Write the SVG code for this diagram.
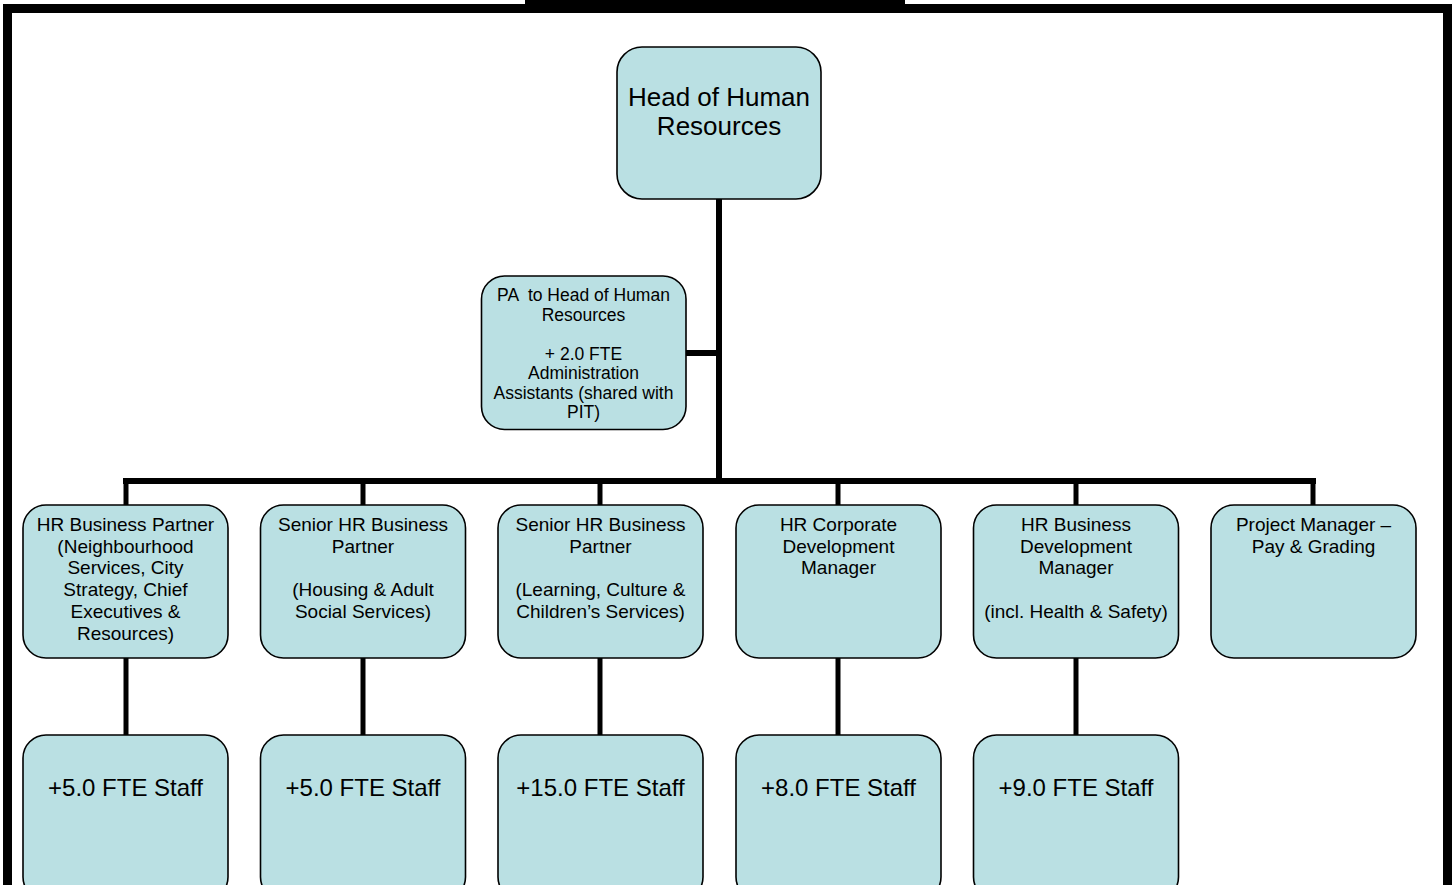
<svg xmlns="http://www.w3.org/2000/svg" width="1455" height="885" viewBox="0 0 1455 885">
  <style>
    .box { fill: #BAE0E3; stroke: #000; stroke-width: 1.6; }
    .lbl { font-family: "Liberation Sans", Arial, sans-serif; fill: #000; text-anchor: middle; white-space: pre; }
    .big { font-size: 26px; }
    .mid { font-size: 24px; }
    .sm { font-size: 19px; }
    .pa { font-size: 17.5px; }
    .wire { stroke: #000; fill: none; }
  </style>

  <rect width="1455" height="885" fill="#fff"/>

  <!-- page frame with tab at top -->
  <g id="frame">
    <rect x="525" y="0" width="380" height="13" fill="#000"/>
    <path d="M7.5,885 V8.5 H1447.5 V885" fill="none" stroke="#000" stroke-width="9"/>
  </g>

  <!-- reporting lines -->
  <g id="connectors" class="wire">
    <line x1="719" y1="199" x2="719" y2="484" stroke-width="6"/>
    <line x1="686" y1="353" x2="719" y2="353" stroke-width="6"/>
    <line x1="123" y1="481" x2="1316" y2="481" stroke-width="6"/>
    <line x1="126" y1="481" x2="126" y2="506" stroke-width="5"/>
    <line x1="363" y1="481" x2="363" y2="506" stroke-width="5"/>
    <line x1="600" y1="481" x2="600" y2="506" stroke-width="5"/>
    <line x1="838" y1="481" x2="838" y2="506" stroke-width="5"/>
    <line x1="1076" y1="481" x2="1076" y2="506" stroke-width="5"/>
    <line x1="1313" y1="481" x2="1313" y2="506" stroke-width="5"/>
    <line x1="126" y1="657" x2="126" y2="736" stroke-width="5"/>
    <line x1="363" y1="657" x2="363" y2="736" stroke-width="5"/>
    <line x1="600" y1="657" x2="600" y2="736" stroke-width="5"/>
    <line x1="838" y1="657" x2="838" y2="736" stroke-width="5"/>
    <line x1="1076" y1="657" x2="1076" y2="736" stroke-width="5"/>
  </g>

  <g id="head">
    <rect class="box" x="617" y="47" width="204" height="152" rx="25"/>
    <text class="lbl big" x="719" y="106">Head of Human</text>
    <text class="lbl big" x="719" y="135">Resources</text>
  </g>

  <g id="pa">
    <rect class="box" x="481.5" y="276" width="204.5" height="153.5" rx="23"/>
    <text class="lbl pa" x="583.5" y="301">PA  to Head of Human</text>
    <text class="lbl pa" x="583.5" y="320.5">Resources</text>
    <text class="lbl pa" x="583.5" y="359.5">+ 2.0 FTE</text>
    <text class="lbl pa" x="583.5" y="379">Administration</text>
    <text class="lbl pa" x="583.5" y="398.5">Assistants (shared with</text>
    <text class="lbl pa" x="583.5" y="418">PIT)</text>
  </g>

  <g id="bp-neighbourhood">
    <rect class="box" x="23" y="505" width="205" height="153" rx="23"/>
    <text class="lbl sm" x="125.5" y="531">HR Business Partner</text>
    <text class="lbl sm" x="125.5" y="552.7">(Neighbourhood</text>
    <text class="lbl sm" x="125.5" y="574.4">Services, City</text>
    <text class="lbl sm" x="125.5" y="596.1">Strategy, Chief</text>
    <text class="lbl sm" x="125.5" y="617.8">Executives &amp;</text>
    <text class="lbl sm" x="125.5" y="639.5">Resources)</text>
  </g>

  <g id="sbp-housing">
    <rect class="box" x="260.5" y="505" width="205" height="153" rx="23"/>
    <text class="lbl sm" x="363" y="531">Senior HR Business</text>
    <text class="lbl sm" x="363" y="552.7">Partner</text>
    <text class="lbl sm" x="363" y="596.1">(Housing &amp; Adult</text>
    <text class="lbl sm" x="363" y="617.8">Social Services)</text>
  </g>

  <g id="sbp-learning">
    <rect class="box" x="498" y="505" width="205" height="153" rx="23"/>
    <text class="lbl sm" x="600.5" y="531">Senior HR Business</text>
    <text class="lbl sm" x="600.5" y="552.7">Partner</text>
    <text class="lbl sm" x="600.5" y="596.1">(Learning, Culture &amp;</text>
    <text class="lbl sm" x="600.5" y="617.8">Children’s Services)</text>
  </g>

  <g id="corporate-dev">
    <rect class="box" x="736" y="505" width="205" height="153" rx="23"/>
    <text class="lbl sm" x="838.5" y="531">HR Corporate</text>
    <text class="lbl sm" x="838.5" y="552.7">Development</text>
    <text class="lbl sm" x="838.5" y="574.4">Manager</text>
  </g>

  <g id="business-dev">
    <rect class="box" x="973.5" y="505" width="205" height="153" rx="23"/>
    <text class="lbl sm" x="1076" y="531">HR Business</text>
    <text class="lbl sm" x="1076" y="552.7">Development</text>
    <text class="lbl sm" x="1076" y="574.4">Manager</text>
    <text class="lbl sm" x="1076" y="617.8">(incl. Health &amp; Safety)</text>
  </g>

  <g id="pay-grading">
    <rect class="box" x="1211" y="505" width="205" height="153" rx="23"/>
    <text class="lbl sm" x="1313.5" y="531">Project Manager –</text>
    <text class="lbl sm" x="1313.5" y="552.7">Pay &amp; Grading</text>
  </g>

  <g id="staff-1">
    <rect class="box" x="23" y="735" width="205" height="165" rx="23"/>
    <text class="lbl mid" x="125.5" y="796">+5.0 FTE Staff</text>
  </g>
  <g id="staff-2">
    <rect class="box" x="260.5" y="735" width="205" height="165" rx="23"/>
    <text class="lbl mid" x="363" y="796">+5.0 FTE Staff</text>
  </g>
  <g id="staff-3">
    <rect class="box" x="498" y="735" width="205" height="165" rx="23"/>
    <text class="lbl mid" x="600.5" y="796">+15.0 FTE Staff</text>
  </g>
  <g id="staff-4">
    <rect class="box" x="736" y="735" width="205" height="165" rx="23"/>
    <text class="lbl mid" x="838.5" y="796">+8.0 FTE Staff</text>
  </g>
  <g id="staff-5">
    <rect class="box" x="973.5" y="735" width="205" height="165" rx="23"/>
    <text class="lbl mid" x="1076" y="796">+9.0 FTE Staff</text>
  </g>
</svg>
